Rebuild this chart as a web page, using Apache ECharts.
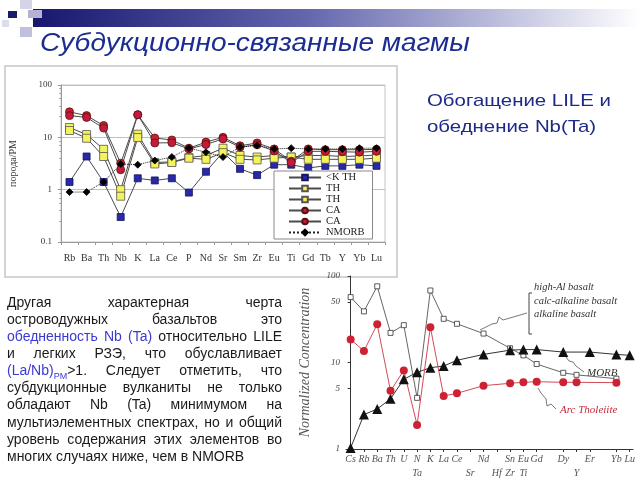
<!DOCTYPE html>
<html>
<head>
<meta charset="utf-8">
<script src="https://cdn.jsdelivr.net/npm/echarts@6/dist/echarts.min.js"></script>
<style>
  html, body { margin: 0; padding: 0; background: #fff; }
  #main { width: 640px; height: 480px; }
</style>
</head>
<body>
<div id="main"></div>
<script>
// --- top spider diagram (rock / primitive mantle) ---
const elements = ['Rb','Ba','Th','Nb','K','La','Ce','P','Nd','Sr','Sm','Zr','Eu','Ti','Gd','Tb','Y','Yb','Lu'];
const kTh   = [1.4, 4.3, 1.4, 0.3, 1.65, 1.5, 1.65, 0.88, 2.2, 5.2, 2.5, 1.9, 3.0, 3.0, 2.6, 2.85, 2.85, 3.0, 2.85];
const th1   = [15.4, 11.3, 5.9, 1.0, 11.5, 3.3, 3.4, 4.1, 4.5, 6.2, 4.5, 4.2, 4.5, 4.2, 4.5, 4.5, 4.3, 4.4, 4.6];
const th2   = [13.5, 9.6, 4.3, 0.75, 9.9, 3.1, 3.3, 4.0, 3.8, 5.1, 3.8, 3.7, 4.0, 4.2, 3.8, 3.8, 3.8, 3.8, 4.0];
const ca1   = [30.7, 26, 16.8, 3.2, 27, 9.7, 8.9, 6.2, 8.1, 10, 6.9, 7.8, 6.0, 3.5, 6.0, 5.8, 5.8, 5.8, 5.9];
const ca2   = [26, 24, 15, 2.4, 27, 7.8, 7.9, 6.0, 7.3, 9.3, 6.5, 7.2, 5.5, 3.3, 5.4, 5.4, 5.3, 5.2, 5.4];
const nmorb = [0.9, 0.9, 1.4, 3.1, 3.0, 3.6, 4.2, 6.2, 5.2, 4.2, 6.5, 7.0, 6.0, 6.2, 6.0, 6.0, 6.0, 6.2, 6.2];

// --- bottom spider diagram (normalized concentration) ---
const arcTicks = [0, 2, 4, 6, 8, 10, 12, 14, 16, 18, 20, 22, 24, 26, 28, 32, 34, 36, 40, 42];
const arcTickLabels = ['Cs','Rb','Ba','Th','U','N\nTa','K','La','Ce','\nSr','Nd','\nHf','Sn\nZr','Eu\nTi','Gd','Dy','\nY','Er','Yb','Lu'];
const concTicks = [1, 5, 10, 50, 100];
const basaltPos  = [0, 2, 4, 6, 8, 10, 12, 14, 16, 20, 24, 26, 28, 32, 34, 40];
const basaltVals = [57, 39, 76, 22, 27, 3.9, 68, 32, 28, 21.6, 14.6, 12.1, 9.6, 7.6, 7.2, 6.5];
const morbPos    = [0, 2, 4, 6, 8, 10, 12, 14, 16, 20, 24, 26, 28, 32, 36, 40, 42];
const morbVals   = [1.03, 2.5, 2.9, 3.8, 6.4, 7.7, 8.7, 9.1, 10.6, 12.4, 13.9, 14.1, 14.1, 13.2, 13.2, 12.4, 12.1];
const arcPos     = [0, 2, 4, 6, 8, 10, 12, 14, 16, 20, 24, 26, 28, 32, 34, 40];
const arcVals    = [18.5, 13.6, 27.6, 4.7, 8.1, 1.9, 25.6, 4.1, 4.4, 5.4, 5.75, 5.9, 6.0, 5.9, 5.9, 5.85];

// paragraph, one entry per printed line; {b|..} blue, {s|..} blue subscript
const paraLines = [
  'Другая характерная черта',
  'островодужных базальтов это',
  '{b|обедненность} {b|Nb} {b|(Ta)} относительно LILE',
  'и легких РЗЭ, что обуславливает',
  '{b|(La/Nb)}{s|PM}>1. Следует отметить, что',
  'субдукционные вулканиты не только',
  'обладают Nb (Ta) минимумом на',
  'мультиэлементных спектрах, но и общий',
  'уровень содержания этих элементов во',
  'многих случаях ниже, чем в NMORB'
];

const SANS = '"Liberation Sans", Arial, sans-serif';
const SERIF = '"Liberation Serif", "Times New Roman", serif';
const TXT = 14, SUB = 9, PARA_L = 7, PARA_R = 282, PARA_TOP = 303, PARA_LEAD = 17.1;
const BLUE = '#3a3ad2', INK = '#1a1a1a';

const ctx = document.createElement('canvas').getContext('2d');
function measure(t, size) { ctx.font = size + 'px ' + SANS; return ctx.measureText(t).width; }

function parseWord(w) {
  const segs = [];
  const re = /\{(b|s)\|([^}]*)\}|([^{]+)/g;
  let m;
  while ((m = re.exec(w))) {
    if (m[1]) segs.push({ t: m[2], k: m[1] });
    else segs.push({ t: m[3], k: 'n' });
  }
  segs.forEach(s => { s.w = measure(s.t, s.k === 's' ? SUB : TXT); });
  return segs;
}

function paragraph() {
  const out = [];
  paraLines.forEach((line, i) => {
    const words = line.split(' ').map(parseWord);
    const widths = words.map(ws => ws.reduce((a, s) => a + s.w, 0));
    const total = widths.reduce((a, b) => a + b, 0);
    const last = i === paraLines.length - 1;
    const gap = last ? measure(' ', TXT) : (PARA_R - PARA_L - total) / (words.length - 1);
    let x = PARA_L;
    const y = PARA_TOP + i * PARA_LEAD;
    words.forEach(ws => {
      ws.forEach(s => {
        out.push({
          type: 'text', x: x, y: y + (s.k === 's' ? 5 : 0), silent: true,
          style: { text: s.t, fill: s.k === 'n' ? INK : BLUE, font: (s.k === 's' ? SUB : TXT) + 'px ' + SANS, verticalAlign: 'middle' }
        });
        x += s.w;
      });
      x += gap;
    });
  });
  return out;
}

function lineSeries(name, data, sym, size, fill, border, dotted) {
  return {
    name: name, type: 'line', xAxisIndex: 0, yAxisIndex: 0, data: data,
    symbol: sym, symbolSize: size,
    lineStyle: { color: dotted ? '#222' : '#4a4a4a', width: 1, type: dotted ? 'dotted' : 'solid' },
    itemStyle: { color: fill, borderColor: border, borderWidth: 0.8 },
    z: dotted ? 3 : 2
  };
}

function pairs(pos, vals) { return pos.map((p, i) => [p, vals[i]]); }

const chart = echarts.init(document.getElementById('main'), null, { renderer: 'canvas' });

const decor = [
  { type: 'rect', shape: { x: 33, y: 9, width: 607, height: 18 }, silent: true,
    style: { fill: new echarts.graphic.LinearGradient(0, 0, 1, 0, [
      { offset: 0, color: '#17176f' }, { offset: 0.45, color: '#6366ad' }, { offset: 1, color: '#ffffff' }]) } },
  { type: 'rect', shape: { x: 20, y: 0, width: 12, height: 9 }, style: { fill: '#d4d4e6' }, silent: true },
  { type: 'rect', shape: { x: 28, y: 10, width: 14, height: 8 }, style: { fill: '#b4b4d2' }, silent: true },
  { type: 'rect', shape: { x: 20, y: 27, width: 12, height: 10 }, style: { fill: '#c0c0dc' }, silent: true },
  { type: 'rect', shape: { x: 2, y: 20, width: 7, height: 7 }, style: { fill: '#dcdcec' }, silent: true },
  { type: 'rect', shape: { x: 8, y: 11, width: 9, height: 7 }, style: { fill: '#1a1a6e' }, silent: true },
  { type: 'text', x: 40, y: 44, scaleX: 1.12, silent: true,
    style: { text: 'Субдукционно-связанные магмы', fill: '#1c2d91', font: 'italic 25px ' + SANS, verticalAlign: 'middle' } },
  { type: 'rect', shape: { x: 5, y: 66, width: 392, height: 211 }, silent: true,
    style: { fill: 'none', stroke: '#c6c6c6', lineWidth: 1.5 } },
  { type: 'text', x: 427, y: 101, scaleX: 1.2, silent: true,
    style: { text: 'Обогащение LILE и', fill: '#1d2a86', font: '17px ' + SANS, verticalAlign: 'middle' } },
  { type: 'text', x: 427, y: 127, scaleX: 1.2, silent: true,
    style: { text: 'обеднение Nb(Ta)', fill: '#1d2a86', font: '17px ' + SANS, verticalAlign: 'middle' } },
  // annotations of lower diagram
  { type: 'polyline', shape: { points: [[532, 293], [529, 293], [529, 334], [532, 334]] }, silent: true,
    style: { stroke: '#444', fill: 'none', lineWidth: 1 } },
  { type: 'text', x: 534, y: 301, silent: true,
    style: { text: 'high-Al basalt\ncalc-alkaline basalt\nalkaline basalt', fill: '#333', lineHeight: 13.5,
      font: 'italic 10.5px ' + SERIF, verticalAlign: 'middle' } },
  { type: 'polyline', shape: { points: [[527, 313], [503, 320], [499, 317], [497, 323], [492, 324], [480, 330]] }, silent: true,
    style: { stroke: '#555', fill: 'none', lineWidth: 0.8 } },
  { type: 'text', x: 587, y: 373, silent: true,
    style: { text: 'MORB', fill: '#333', font: 'italic 11px ' + SERIF, verticalAlign: 'middle' } },
  { type: 'polyline', shape: { points: [[584, 372], [576, 366], [573, 362], [569, 361], [566, 357]] }, silent: true,
    style: { stroke: '#555', fill: 'none', lineWidth: 0.8 } },
  { type: 'text', x: 560, y: 410, silent: true,
    style: { text: 'Arc Tholeiite', fill: '#c42a3a', font: 'italic 11px ' + SERIF, verticalAlign: 'middle' } },
  { type: 'polyline', shape: { points: [[556, 409], [551, 404], [547, 406], [546, 399], [541, 393], [538, 388]] }, silent: true,
    style: { stroke: '#555', fill: 'none', lineWidth: 0.8 } }
];

chart.setOption({
  animation: false,
  backgroundColor: '#fff',
  graphic: { elements: decor.concat(paragraph()) },
  grid: [
    { left: 57, top: 85, width: 328, height: 157, show: true, borderColor: '#c4c4c4', borderWidth: 1 },
    { left: 346, top: 276, width: 287, height: 175 }
  ],
  legend: {
    data: ['<K TH', 'TH1', 'TH2', 'CA1', 'CA2', 'NMORB'],
    orient: 'vertical', left: 274, top: 171,
    backgroundColor: '#fff', borderColor: '#8a8a8a', borderWidth: 1, borderRadius: 0,
    padding: [1, 8, 1, 14], itemWidth: 32, itemHeight: 7, itemGap: 0,
    formatter: n => n.replace(/\d$/, ''),
    textStyle: { fontFamily: SERIF, fontSize: 10.5, color: '#222' }
  },
  xAxis: [
    { type: 'category', gridIndex: 0, data: elements, boundaryGap: true,
      axisLine: { lineStyle: { color: '#9a9a9a' } },
      axisTick: { show: true, length: 3, lineStyle: { color: '#9a9a9a' } },
      axisLabel: { fontFamily: SERIF, fontSize: 10, color: '#333', margin: 11, interval: 0 },
      splitLine: { show: false } },
    { type: 'value', gridIndex: 1, min: -0.7, max: 42.5,
      axisLine: { lineStyle: { color: '#333' } },
      axisTick: { show: true, customValues: arcTicks, length: 3, lineStyle: { color: '#333' } },
      axisLabel: { customValues: arcTicks, fontFamily: SERIF, fontStyle: 'italic', fontSize: 10, color: '#555',
        lineHeight: 14, margin: 3, formatter: v => arcTickLabels[arcTicks.indexOf(v)] },
      splitLine: { show: false } }
  ],
  yAxis: [
    { type: 'log', gridIndex: 0, logBase: 10, min: 0.1, max: 100,
      name: 'порода/PM', nameLocation: 'middle', nameGap: 43,
      nameTextStyle: { fontFamily: SERIF, fontSize: 10, color: '#333' },
      axisLine: { show: true, lineStyle: { color: '#9a9a9a' } },
      axisTick: { show: true, length: 3, lineStyle: { color: '#9a9a9a' } },
      minorTick: { show: true, splitNumber: 6, length: 2, lineStyle: { color: '#aaa' } },
      axisLabel: { fontFamily: SERIF, fontSize: 9, color: '#333', margin: 9 },
      splitLine: { show: true, lineStyle: { color: '#c0c0c0', width: 1 } } },
    { type: 'log', gridIndex: 1, logBase: 10, min: 1, max: 100,
      name: 'Normalized Concentration', nameLocation: 'middle', nameGap: 34,
      nameTextStyle: { fontFamily: SERIF, fontStyle: 'italic', fontSize: 14, color: '#555' },
      axisLine: { show: true, lineStyle: { color: '#333' } },
      axisTick: { show: true, customValues: concTicks, length: 3, lineStyle: { color: '#333' } },
      axisLabel: { customValues: concTicks, fontFamily: SERIF, fontStyle: 'italic', fontSize: 9, color: '#444', margin: 6 },
      splitLine: { show: false } }
  ],
  series: [
    lineSeries('<K TH', kTh, 'rect', 7, '#2828a8', '#15155a', false),
    lineSeries('TH1', th1, 'rect', 8, '#f4f45a', '#555', false),
    lineSeries('TH2', th2, 'rect', 8, '#f4f45a', '#555', false),
    lineSeries('CA1', ca1, 'circle', 8, '#cc1f2c', '#5a1010', false),
    lineSeries('CA2', ca2, 'circle', 8, '#c41a3c', '#5a1010', false),
    lineSeries('NMORB', nmorb, 'diamond', 7, '#000', '#000', true),
    { name: 'basalts', type: 'line', xAxisIndex: 1, yAxisIndex: 1, data: pairs(basaltPos, basaltVals),
      symbol: 'rect', symbolSize: 5, lineStyle: { color: '#666', width: 1 },
      itemStyle: { color: '#fff', borderColor: '#333', borderWidth: 0.8 } },
    { name: 'MORB', type: 'line', xAxisIndex: 1, yAxisIndex: 1, data: pairs(morbPos, morbVals),
      symbol: 'triangle', symbolSize: 10, lineStyle: { color: '#333', width: 1 },
      itemStyle: { color: '#111' } },
    { name: 'Arc Tholeiite', type: 'line', xAxisIndex: 1, yAxisIndex: 1, data: pairs(arcPos, arcVals),
      symbol: 'circle', symbolSize: 8, lineStyle: { color: '#d24a58', width: 1 },
      itemStyle: { color: '#cc2233' } }
  ]
});
</script>
</body>
</html>
